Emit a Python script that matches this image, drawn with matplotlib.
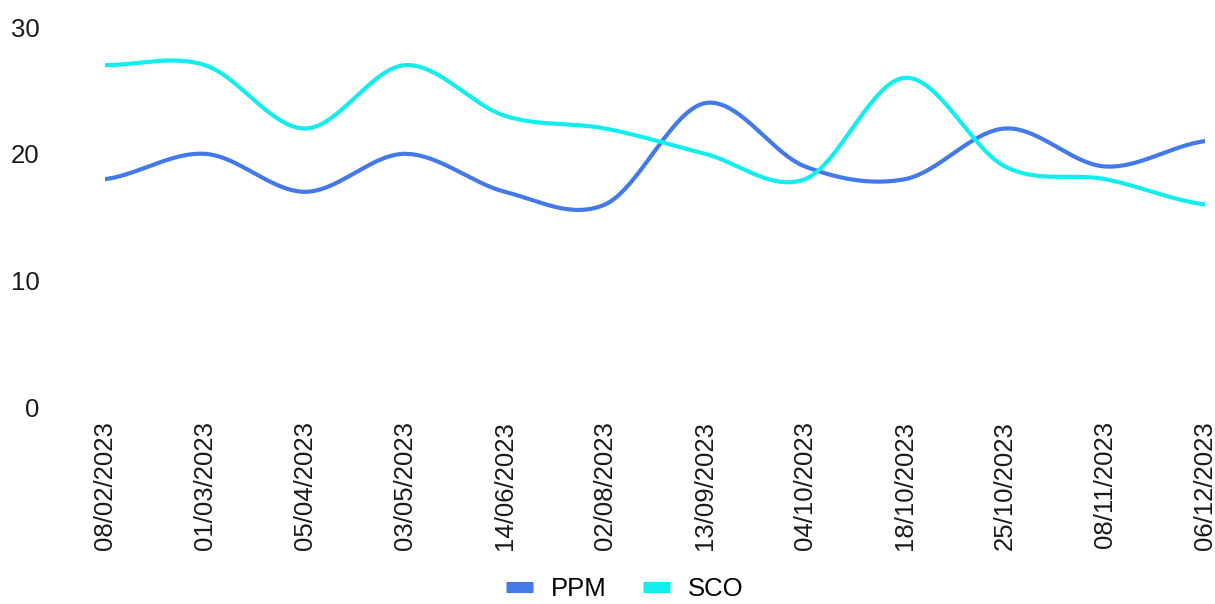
import numpy as np
import matplotlib
matplotlib.use("Agg")
import matplotlib.pyplot as plt
from matplotlib.lines import Line2D

dates = ["08/02/2023", "01/03/2023", "05/04/2023", "03/05/2023", "14/06/2023", "02/08/2023",
         "13/09/2023", "04/10/2023", "18/10/2023", "25/10/2023", "08/11/2023", "06/12/2023"]
ppm = [18, 20, 17, 20, 17, 16, 24, 19, 18, 22, 19, 21]
sco = [27, 27, 22, 27, 23, 22, 20, 18, 26, 19, 18, 16]
yticks = [0, 10, 20, 30]

PPM_COLOR = "#4479E9"
SCO_COLOR = "#12EEEE"

plt.rcParams["font.family"] = ["Liberation Sans", "DejaVu Sans"]


def smooth(y, n=40):
    # catmull-rom style curve through the points, for drawing only
    y = np.asarray(y, float)
    p = np.concatenate([[y[0]], y, [y[-1]]])
    xs, ys = [], []
    for i in range(len(y) - 1):
        p0, p1, p2, p3 = p[i], p[i + 1], p[i + 2], p[i + 3]
        t = np.linspace(0, 1, n, endpoint=False)
        m1 = (p2 - p0) / 2
        m2 = (p3 - p1) / 2
        h00 = 2*t**3 - 3*t**2 + 1
        h10 = t**3 - 2*t**2 + t
        h01 = -2*t**3 + 3*t**2
        h11 = t**3 - t**2
        xs.append(i + t)
        ys.append(h00*p1 + h10*m1 + h01*p2 + h11*m2)
    xs.append([len(y) - 1]); ys.append([y[-1]])
    return np.concatenate(xs), np.concatenate(ys)


fig = plt.figure(figsize=(12.15, 6.04), dpi=100)
ax = fig.add_axes([0.0864, 0.326, 0.9054, 0.629])

for vals, c in [(ppm, PPM_COLOR), (sco, SCO_COLOR)]:
    sx, sy = smooth(vals)
    ax.plot(sx, sy, color=c, lw=3, solid_capstyle="round")

ax.set_xlim(0, len(dates) - 1)
ax.set_ylim(0, 30)
ax.set_xticks(range(len(dates)))
ax.set_xticklabels(dates, rotation=90, va="top", ha="center")
ax.set_yticks(yticks)
ax.tick_params(axis="both", length=0, labelsize=18.5, colors="#1a1a1a")
ax.tick_params(axis="x", pad=10)
ax.tick_params(axis="y", pad=47)
for s in ax.spines.values():
    s.set_visible(False)

handles = [Line2D([], [], color=PPM_COLOR, lw=8, solid_capstyle="butt"),
           Line2D([], [], color=SCO_COLOR, lw=8, solid_capstyle="butt")]
fig.legend(handles, ["PPM", "SCO"], loc="center", bbox_to_anchor=(0.514, 0.025), ncol=2,
           frameon=False, fontsize=18.5, handlelength=1.05, columnspacing=1.4, handletextpad=0.7)

fig.savefig("out.png", dpi=100)
